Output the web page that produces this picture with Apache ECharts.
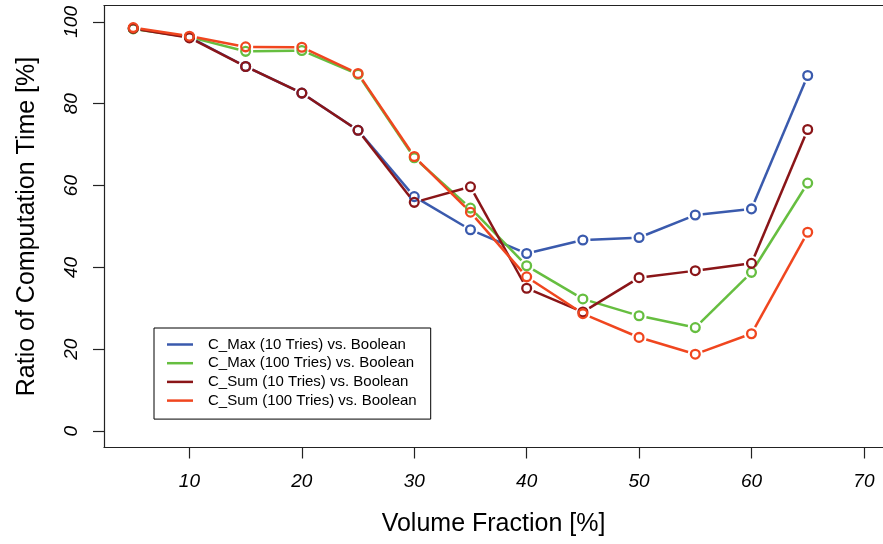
<!DOCTYPE html>
<html>
<head>
<meta charset="utf-8">
<script src="https://cdn.jsdelivr.net/npm/echarts@6/dist/echarts.min.js"></script>
<style>html,body{margin:0;padding:0;background:#fff;}#c{width:883px;height:544px;}</style>
</head>
<body>
<div id="c"></div>
<script>
const volumeFraction = [5, 10, 15, 20, 25, 30, 35, 40, 45, 50, 55, 60, 65];
const cMax10  = [98.4, 96.3, 89.1, 82.6, 73.5, 57.3, 49.2, 43.4, 46.7, 47.3, 52.8, 54.3, 86.9];
const cMax100 = [98.3, 96.3, 92.8, 93.0, 87.2, 66.8, 54.5, 40.4, 32.3, 28.2, 25.3, 38.8, 60.6];
const cSum10  = [98.4, 96.1, 89.1, 82.6, 73.5, 55.9, 59.7, 34.9, 29.1, 37.5, 39.2, 41.0, 73.7];
const cSum100 = [98.6, 96.5, 93.9, 93.8, 87.4, 67.1, 53.5, 37.7, 28.7, 22.9, 18.8, 23.8, 48.6];
const seriesNames = ['C_Max (10 Tries) vs. Boolean', 'C_Max (100 Tries) vs. Boolean', 'C_Sum (10 Tries) vs. Boolean', 'C_Sum (100 Tries) vs. Boolean'];
const xTicks = [10, 20, 30, 40, 50, 60, 70];
const yTicks = [0, 20, 40, 60, 80, 100];

const colors = ['#3A5AAD', '#66BE40', '#8A1518', '#F0461F'];
const allValues = [cMax10, cMax100, cSum10, cSum100];

function makeRender(ys, color) {
  return function (params, api) {
    const i = params.dataIndex;
    const p = api.coord([api.value(0), api.value(1)]);
    const children = [];
    if (i < volumeFraction.length - 1) {
      const q = api.coord([volumeFraction[i + 1], ys[i + 1]]);
      const dx = q[0] - p[0], dy = q[1] - p[1];
      const d = Math.sqrt(dx * dx + dy * dy);
      const g = 7.5;
      if (d > 2 * g) {
        const ux = dx / d, uy = dy / d;
        children.push({
          type: 'line',
          shape: { x1: p[0] + ux * g, y1: p[1] + uy * g, x2: q[0] - ux * g, y2: q[1] - uy * g },
          style: { stroke: color, lineWidth: 2.5 }
        });
      }
    }
    children.push({
      type: 'circle',
      shape: { cx: p[0], cy: p[1], r: 4.4 },
      style: { fill: 'none', stroke: color, lineWidth: 2.3 }
    });
    return { type: 'group', children: children };
  };
}

const series = allValues.map((ys, k) => ({
  name: seriesNames[k],
  type: 'custom',
  renderItem: makeRender(ys, colors[k]),
  itemStyle: { color: colors[k] },
  encode: { x: 0, y: 1 },
  data: volumeFraction.map((x, i) => [x, ys[i]]),
  clip: false,
  animation: false
}));

const axisLineStyle = { color: '#222', width: 1.2 };

const chart = echarts.init(document.getElementById('c'), null, { renderer: 'canvas' });
chart.setOption({
  animation: false,
  color: colors,
  backgroundColor: '#fff',
  grid: { left: 104, top: 5.5, bottom: 96.5, right: 0, show: false, containLabel: false },
  legend: {
    orient: 'vertical', left: 154, top: 328,
    padding: [9, 14, 11, 13],
    itemWidth: 26, itemHeight: 2.5, itemGap: 3.7,
    icon: 'rect',
    borderColor: '#000', borderWidth: 1, borderRadius: 0,
    selectedMode: false,
    textStyle: { fontSize: 15, lineHeight: 15, fontFamily: 'Liberation Sans', color: '#000', padding: [0, 0, 0, 10] },
    data: seriesNames
  },
  xAxis: [{
    type: 'value', min: 2.4, max: 71.7, position: 'bottom',
    name: 'Volume Fraction [%]', nameLocation: 'middle', nameGap: 64,
    nameTextStyle: { fontSize: 25, fontFamily: 'Liberation Sans', color: '#000' },
    axisLine: { show: true, onZero: false, lineStyle: axisLineStyle },
    axisTick: { show: true, inside: false, length: 11, customValues: xTicks, lineStyle: axisLineStyle },
    axisLabel: { customValues: xTicks, fontSize: 19, fontStyle: 'italic', fontFamily: 'Liberation Sans', color: '#000', margin: 25 },
    splitLine: { show: false }
  }, {
    type: 'value', min: 2.4, max: 71.7, position: 'top',
    axisLine: { show: true, onZero: false, lineStyle: axisLineStyle },
    axisTick: { show: false }, axisLabel: { show: false }, splitLine: { show: false }
  }],
  yAxis: {
    type: 'value', min: -4, max: 104,
    name: 'Ratio of Computation Time [%]', nameLocation: 'middle', nameGap: 64, nameRotate: 90,
    nameTextStyle: { fontSize: 25, fontFamily: 'Liberation Sans', color: '#000' },
    axisLine: { show: true, onZero: false, lineStyle: axisLineStyle },
    axisTick: { show: true, inside: false, length: 11, customValues: yTicks, lineStyle: axisLineStyle },
    axisLabel: { customValues: yTicks, rotate: 90, fontSize: 19, fontStyle: 'italic', fontFamily: 'Liberation Sans', color: '#000', margin: 23 },
    splitLine: { show: false }
  },
  series: series
});
</script>
</body>
</html>
